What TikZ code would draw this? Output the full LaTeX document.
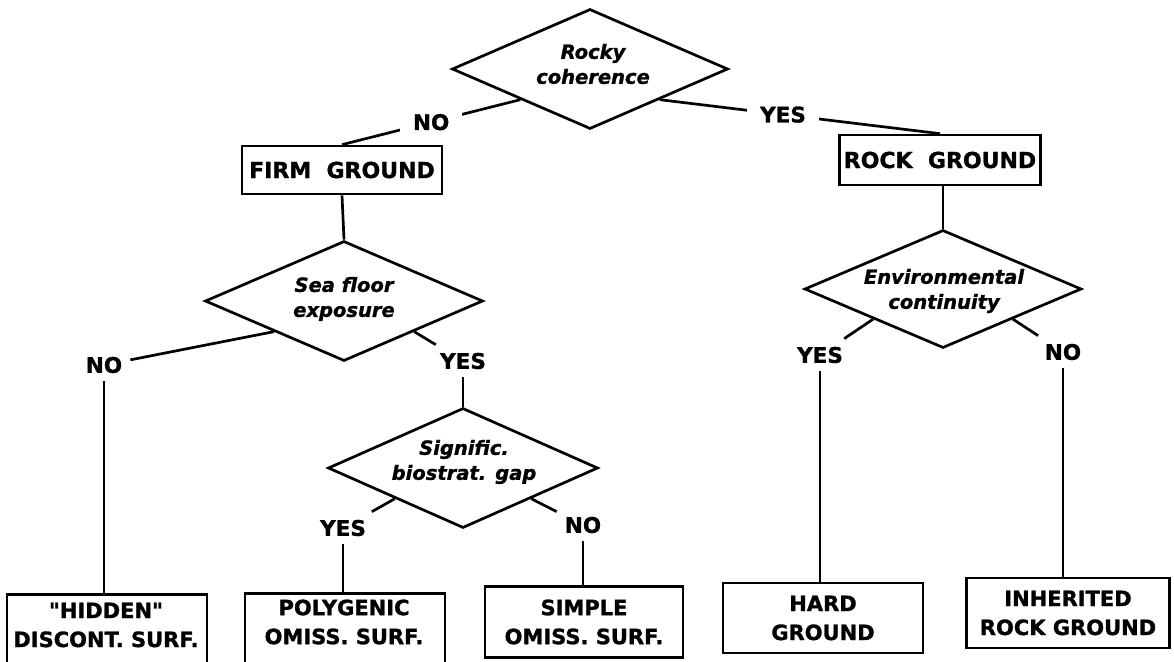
\documentclass[tikz,border=0pt]{standalone}
\usepackage{fontspec}
\setmainfont{DejaVu Sans}[Ligatures=TeXOff, BoldFeatures={FakeBold=1.2}, BoldItalicFeatures={FakeBold=1.2}]
\usetikzlibrary{shapes.geometric}
\begin{document}
\begin{tikzpicture}[x=1pt,y=-1pt,
  conn/.style={line width=2.7pt},
  dia/.style={diamond, draw, line width=2.7pt, inner sep=0pt},
  dtext/.style={font=\fontsize{19.5}{25}\selectfont\bfseries\itshape, align=center, inner sep=0pt},
  box/.style={draw, line width=2.7pt, minimum width=200pt, align=center, inner sep=0pt},
  topbox/.style={box, font=\fontsize{22}{26}\selectfont\bfseries},
  botbox/.style={box, font=\fontsize{21}{29}\selectfont\bfseries},
  btext/.style={font=\fontsize{21}{29}\selectfont\bfseries, align=center, inner sep=0pt},
  lab/.style={font=\fontsize{21.5}{25}\selectfont\bfseries, inner sep=8pt},
  toplab/.style={font=\fontsize{21.5}{25}\selectfont\bfseries, fill=white, inner xsep=13pt, inner ysep=3pt}
]
\useasboundingbox (0,0) rectangle (1174,661);
\clip (0,0) rectangle (1174,661);

% decision diamonds
\node[dia, minimum width=276pt, minimum height=120pt] (d1) at (590,69) {};
\node[dtext] (t1) at (593,64) {Rocky\\coherence};
\node[dia, minimum width=278pt, minimum height=120pt] (d2) at (344,301) {};
\node[dtext] (t2) at (344,299) {Sea floor\\exposure};
\node[dia, minimum width=270pt, minimum height=120pt] (d3) at (463,468) {};
\node[dtext] (t3) at (464,462) {Signific.\\biostrat. gap};
\node[dia, minimum width=277pt, minimum height=118pt] (d4) at (943,289) {};
\node[dtext] (t4) at (944,291) {Environmental\\continuity};

% upper boxes
\node[topbox, minimum height=48pt] (firm) at (342,170) {FIRM\ \ GROUND};
\node[topbox, minimum width=201pt, minimum height=50pt] (rock) at (940,160) {ROCK\ \ GROUND};

% bottom boxes
\node[box, minimum height=100pt, anchor=north] (hidden) at (107,593) {};
\node[btext] (hiddentext) at (106,625) {"HIDDEN"\\DISCONT. SURF.};
\node[box, minimum height=100pt, anchor=north] (poly) at (345,592) {};
\node[btext] (polytext) at (344,622) {POLYGENIC\\OMISS. SURF.};
\node[botbox, minimum width=198pt, minimum height=71pt] (simple) at (584,622) {SIMPLE\\OMISS. SURF.};
\node[botbox, minimum height=70pt] (hard) at (823,618) {HARD\\GROUND};
\node[botbox, minimum width=203pt, minimum height=70pt] (inh) at (1068,613) {INHERITED\\ROCK GROUND};

% branch labels
\node[lab] (no2) at (104,365) {NO};
\node[lab] (yes2) at (463,361) {YES};
\node[lab] (yes3) at (343,528) {YES};
\node[lab] (no3) at (583,525) {NO};
\node[lab] (yes4) at (820,355) {YES};
\node[lab] (no4) at (1063,352) {NO};

% connectors
\draw[conn] (d1.south west) -- node[toplab, pos=0.5] (no1) {NO} (firm.north);
\draw[conn] (d1.south east) -- node[toplab, pos=0.44] (yes1) {YES} (rock.north);
\draw[conn] (firm.south) -- (d2.north);
\draw[conn] (d4.north |- rock.south) -- (d4.north);
\draw[conn] (d2.south west) -- (no2);
\draw[conn] (no2.south) -- (no2.south |- hidden.north);
\draw[conn] (d2.south east) -- (yes2);
\draw[conn] (yes2) -- (d3.north);
\draw[conn] (d3.south west) -- (yes3);
\draw[conn] (yes3.south) -- (yes3.south |- poly.north);
\draw[conn] (d3.south east) -- (no3);
\draw[conn] (no3.south) -- (no3.south |- simple.north);
\draw[conn] (d4.south west) -- (yes4);
\draw[conn] (yes4.south) -- (yes4.south |- hard.north);
\draw[conn] (d4.south east) -- (no4);
\draw[conn] (no4.south) -- (no4.south |- inh.north);
\end{tikzpicture}
\end{document}
